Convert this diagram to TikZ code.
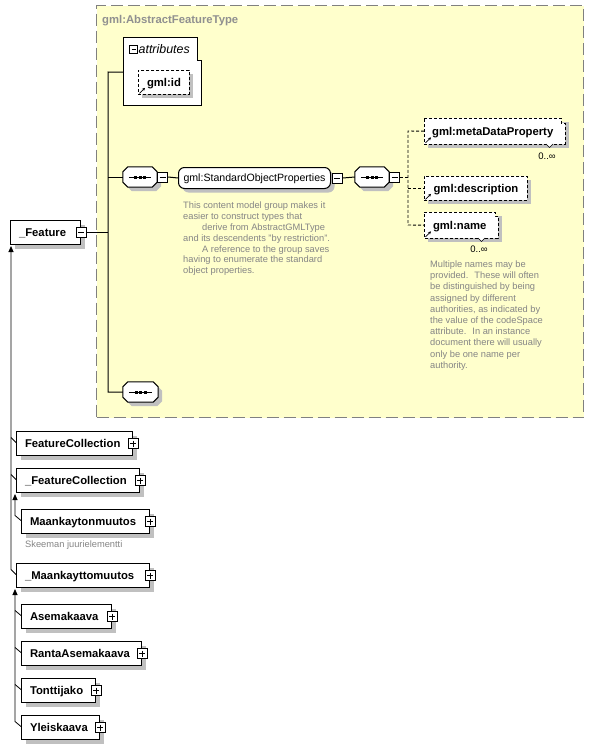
\documentclass[tikz,border=0pt]{standalone}
\usepackage{fontspec}
\setmainfont{Liberation Sans}
\usetikzlibrary{shadows,arrows.meta}
\definecolor{yel}{HTML}{FFFFCC}
\definecolor{shadowc}{HTML}{C0C0C0}
\definecolor{bordc}{HTML}{808080}
\definecolor{notec}{HTML}{858585}
\definecolor{titlec}{HTML}{909090}
\newcommand\lbl{\fontsize{11.3}{13}\selectfont\bfseries}
\newcommand\drawseq[1]{%
 \fill[shadowc] ([xshift=9pt,yshift=-4pt]#1.north west) -- ([xshift=-1pt,yshift=-4pt]#1.north east) -- ([xshift=4pt,yshift=-9pt]#1.north east) -- ([xshift=4pt,yshift=1pt]#1.south east) -- ([xshift=-1pt,yshift=-4pt]#1.south east) -- ([xshift=9pt,yshift=-4pt]#1.south west) -- ([xshift=4pt,yshift=1pt]#1.south west) -- ([xshift=4pt,yshift=-9pt]#1.north west) -- cycle;
 \filldraw[fill=white,draw=black,line width=1pt] ([xshift=5pt]#1.north west) -- ([xshift=-5pt]#1.north east) -- ([yshift=-5pt]#1.north east) -- ([yshift=5pt]#1.south east) -- ([xshift=-5pt]#1.south east) -- ([xshift=5pt]#1.south west) -- ([yshift=5pt]#1.south west) -- ([yshift=-5pt]#1.north west) -- cycle;
 \draw[line width=1pt] ([xshift=6pt]#1.west) -- ([xshift=-6pt]#1.east);
 \foreach \dx in {-4.5,0,4.5} \fill ([xshift=\dx pt]#1.center) +(-1.5pt,-1.5pt) rectangle +(1.5pt,1.5pt);
}
\tikzset{
 shd/.style={preaction={fill=shadowc, draw=none, transform canvas={shift={(4pt,-4pt)}}}},
 elem/.style={draw=black, line width=1pt, fill=white, anchor=north west, minimum height=24pt,
   inner ysep=0pt, inner xsep=8.5pt, align=left, text height=8.1pt, text depth=0pt, font=\lbl, shd},
 delem/.style={draw=black, line width=.9pt, dash pattern=on 3pt off 2pt, fill=white, anchor=north west,
   minimum height=24pt, inner sep=0pt, text height=8.1pt, text depth=0pt, font=\lbl, shd},
 txtbox/.style={anchor=north west, inner sep=0pt, text height=8.1pt, text depth=0pt, font=\lbl},
 pmbase/.style={draw=black, fill=white, line width=.8pt, minimum size=10pt, inner sep=0pt},
 pmminus/.style={pmbase, path picture={\draw[line width=.8pt] ([xshift=2pt]path picture bounding box.west) -- ([xshift=-2pt]path picture bounding box.east);}},
 pmplus/.style={pmbase, path picture={\draw[line width=.8pt] ([xshift=2pt]path picture bounding box.west) -- ([xshift=-2pt]path picture bounding box.east) ([yshift=-2pt]path picture bounding box.north) -- ([yshift=2pt]path picture bounding box.south);}},
 seqn/.style={rectangle, minimum width=34pt, minimum height=20pt, inner sep=0pt},
 conn/.style={line width=1pt, draw=black},
 dconn/.style={line width=.9pt, draw=black, dash pattern=on 3pt off 2pt},
 tline/.style={line width=.8pt, draw=black},
 inh/.style={tline, arrows={Triangle[length=6pt,width=5pt]-}},
 refarrow/.style={line width=.8pt, arrows={-Stealth[length=3pt,width=3pt]}},
 note/.style={inner sep=0pt, align=left, text=notec, font=\fontsize{9.3}{10.8}\selectfont},
 occ/.style={inner sep=0pt, font=\fontsize{9.5}{11}\selectfont},
}
\begin{document}
\begin{tikzpicture}[x=1pt,y=-1pt]
\useasboundingbox (0,0) rectangle (594,749);
\fill[white] (0,0) rectangle (594,749);

% container
\node[draw=bordc, dash pattern=on 12pt off 5pt, line width=1.2pt, fill=yel, anchor=north west,
  minimum width=487pt, minimum height=412pt, inner sep=0pt] (aft) at (96,5) {};
\node[anchor=base west, inner sep=0pt, font=\lbl, text=titlec] (title) at (102,23.5) {gml:AbstractFeatureType};

% attributes
\filldraw[fill=white, draw=black, line width=1pt] (123,38) -- (197,38) -- (197,61) -- (201,61) -- (201,106) -- (123,106) -- cycle;
\node[rectangle, anchor=north west, minimum width=78pt, minimum height=68pt, inner sep=0pt] (attr) at (123,38) {};
\node[pmminus, minimum size=8pt] (attrpm) at (133.5,49.5) {};
\node[anchor=base west, inner sep=0pt, font=\fontsize{12.4}{14}\selectfont\itshape] (attrlbl) at (138.5,54) {attributes};
\node[delem, minimum width=51pt] (gid) at (138,70) {gml:id};
\draw[refarrow] ([xshift=1.5pt,yshift=1.5pt]gid.south west) -- ++(5.5pt,5.5pt);

% feature
\node[elem, text width=53pt] (feature) at (10,220) {\_Feature};
\node[pmminus] (featpm) at (feature.east) {};

% compositors
\node[seqn] (seq1) at (140,177) {};
\drawseq{seq1}
\node[pmminus, anchor=west] (seq1pm) at (seq1.east) {};

\node[draw=black, line width=1pt, fill=white, rounded corners=6pt, anchor=north west, minimum width=152pt,
  minimum height=21pt, inner sep=0pt, text height=7.6pt, text depth=0pt, font=\fontsize{10.6}{12}\selectfont, shd]
  (sop) at (178,167) {gml:StandardObjectProperties};
\node[pmminus, anchor=west] (soppm) at ([xshift=1pt]sop.east) {};

\node[note, anchor=north west] (sopdoc) at (183,202) {This content model group makes it\\easier to construct types that\\\hspace*{19pt}derive from AbstractGMLType\\and its descendents "by restriction".\\\hspace*{19pt}A reference to the group saves\\having to enumerate the standard\\object properties.};

\node[seqn] (seq2) at (372,177) {};
\drawseq{seq2}
\node[pmminus, anchor=west] (seq2pm) at (seq2.east) {};

\node[seqn, minimum width=35pt] (seq3) at (140.5,392) {};
\drawseq{seq3}

% elements of sequence 2
\fill[shadowc] (428,122) rectangle (569,148);
\filldraw[fill=white, draw=black, line width=.9pt, dash pattern=on 3pt off 2pt] (424,118) -- (561,118) -- (561,123) -- (565,123) -- (565,144) -- (424,144) -- cycle;
\filldraw[fill=white, draw=black, line width=.6pt] (546,144) -- (549.5,147.5) -- (553,144);
\node[txtbox, minimum width=137pt, minimum height=26pt] (meta) at (424,118) {gml:metaDataProperty};
\draw[refarrow] ([xshift=1.5pt,yshift=1.5pt]meta.south west) -- ++(5.5pt,5.5pt);
\node[occ] (metaocc) at (547,156) {0..∞};

\node[delem, minimum width=103pt] (desc) at (424,176) {gml:description};
\draw[refarrow] ([xshift=1.5pt,yshift=1.5pt]desc.south west) -- ++(5.5pt,5.5pt);

\fill[shadowc] (428,216) rectangle (502,242);
\filldraw[fill=white, draw=black, line width=.9pt, dash pattern=on 3pt off 2pt] (424,212) -- (495,212) -- (495,216) -- (498,216) -- (498,238) -- (424,238) -- cycle;
\filldraw[fill=white, draw=black, line width=.6pt] (478,238) -- (481.5,241.5) -- (485,238);
\node[txtbox, minimum width=71pt, minimum height=26pt] (name) at (424,212) {gml:name};
\draw[refarrow] ([xshift=1.5pt,yshift=1.5pt]name.south west) -- ++(5.5pt,5.5pt);
\node[occ] (nameocc) at (479,249) {0..∞};

\node[note, anchor=north west, font=\fontsize{9.3}{11.2}\selectfont] (namedoc) at (430,260.5) {Multiple names may be\\provided.~ These will often\\be distinguished by being\\assigned by different\\authorities, as indicated by\\the value of the codeSpace\\attribute.~ In an instance\\document there will usually\\only be one name per\\authority.};

% connectors inside
\coordinate (bus1) at (108,72);
\coordinate (bus2) at (108,392);
\coordinate (dtop) at (408,131);
\coordinate (dbot) at (408,225);
\draw[conn] (featpm.east) -- (featpm.east -| bus1);
\draw[conn] (attr.west) -- (bus1) -- (bus2) -- (seq3.west);
\draw[conn] (bus1 |- seq1.west) -- (seq1.west);
\draw[conn] (seq1pm.east) -- (sop.west);
\draw[conn] (soppm.east) -- (seq2.west);
\draw[dconn] (seq2pm.east) -- (seq2pm.east -| dtop);
\draw[dconn] (meta.west) -- (dtop) -- (dbot) -- (name.west);
\draw[dconn] (dtop |- desc.west) -- (desc.west);

% derived types
\node[elem, text width=99pt] (fc) at (16,431) {FeatureCollection};
\node[pmplus] (fcpm) at (fc.east) {};
\node[elem, text width=106pt] (ufc) at (16,468) {\_FeatureCollection};
\node[pmplus] (ufcpm) at (ufc.east) {};
\node[elem, text width=111pt] (mm) at (21,509) {Maankaytonmuutos};
\node[pmplus] (mmpm) at (mm.east) {};
\node[note, anchor=base west] (mmdoc) at (25,547.5) {Skeeman juurielementti};
\node[elem, text width=116pt] (umm) at (16,563) {\_Maankayttomuutos};
\node[pmplus] (ummpm) at (umm.east) {};
\node[elem, text width=73pt] (ase) at (21,604) {Asemakaava};
\node[pmplus] (asepm) at (ase.east) {};
\node[elem, text width=103pt] (ranta) at (21,641) {RantaAsemakaava};
\node[pmplus] (rantapm) at (ranta.east) {};
\node[elem, text width=57pt] (tontti) at (21,678) {Tonttijako};
\node[pmplus] (tonttipm) at (tontti.east) {};
\node[elem, text width=61pt] (yleis) at (21,715) {Yleiskaava};
\node[pmplus] (yleispm) at (yleis.east) {};

\draw[inh] ([xshift=1pt,yshift=-1pt]feature.south west) -- ([xshift=-5pt,yshift=6pt]umm.west) -- ([yshift=1pt]umm.west);
\draw[tline] ([xshift=-5pt,yshift=6pt]fc.west) -- ([yshift=1pt]fc.west);
\draw[tline] ([xshift=-5pt,yshift=6pt]ufc.west) -- ([yshift=1pt]ufc.west);
\draw[inh] ([xshift=-1pt,yshift=-1pt]ufc.south west) -- ([xshift=-6pt,yshift=6pt]mm.west) -- ([yshift=1pt]mm.west);
\draw[inh] ([xshift=-1pt,yshift=-1pt]umm.south west) -- ([xshift=-6pt,yshift=6pt]yleis.west) -- ([yshift=1pt]yleis.west);
\draw[tline] ([xshift=-6pt,yshift=6pt]ase.west) -- ([yshift=1pt]ase.west);
\draw[tline] ([xshift=-6pt,yshift=6pt]ranta.west) -- ([yshift=1pt]ranta.west);
\draw[tline] ([xshift=-6pt,yshift=6pt]tontti.west) -- ([yshift=1pt]tontti.west);
\end{tikzpicture}
\end{document}
